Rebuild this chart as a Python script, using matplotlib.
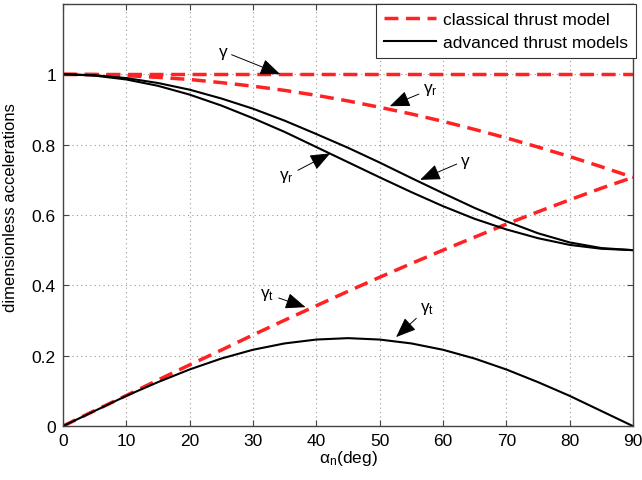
import matplotlib
matplotlib.use("Agg")
import matplotlib.pyplot as plt

plt.rcParams['font.family'] = ['Liberation Sans', 'DejaVu Sans']
plt.rcParams['mathtext.fontset'] = 'custom'
plt.rcParams['mathtext.rm'] = 'Liberation Sans'
plt.rcParams['mathtext.it'] = 'Liberation Sans'
plt.rcParams['mathtext.default'] = 'regular'

# angle alpha_n (deg)
alpha = [0, 5, 10, 15, 20, 25, 30, 35, 40, 45, 50, 55, 60, 65, 70, 75, 80, 85, 90]

# classical thrust model
cls_gamma = [1.0] * 19
cls_gamma_r = [1.000, 0.999, 0.996, 0.991, 0.985, 0.976, 0.966, 0.954, 0.940, 0.924,
               0.906, 0.887, 0.866, 0.843, 0.819, 0.793, 0.766, 0.737, 0.707]
cls_gamma_t = [0.000, 0.044, 0.087, 0.131, 0.174, 0.216, 0.259, 0.301, 0.342, 0.383,
               0.423, 0.462, 0.500, 0.537, 0.574, 0.609, 0.643, 0.676, 0.707]

# advanced thrust models
adv_gamma = [1.000, 0.997, 0.989, 0.975, 0.956, 0.931, 0.902, 0.868, 0.830, 0.791,
             0.749, 0.705, 0.662, 0.620, 0.582, 0.548, 0.522, 0.506, 0.500]
adv_gamma_r = [1.000, 0.996, 0.985, 0.967, 0.942, 0.911, 0.875, 0.836, 0.793, 0.750,
               0.707, 0.665, 0.625, 0.589, 0.559, 0.534, 0.515, 0.504, 0.500]
adv_gamma_t = [0.000, 0.043, 0.086, 0.125, 0.161, 0.192, 0.217, 0.235, 0.246, 0.250,
               0.246, 0.235, 0.217, 0.192, 0.161, 0.125, 0.086, 0.043, 0.000]

legend_labels = ['classical thrust model', 'advanced thrust models']

red = '#ff2222'
fig = plt.figure(figsize=(6.42, 4.81), dpi=100)
ax = fig.add_axes([0.098, 0.112, 0.888, 0.878])

dash = (4, 2.2)
l1, = ax.plot(alpha, cls_gamma, color=red, lw=2.5, dashes=dash)
ax.plot(alpha, cls_gamma_r, color=red, lw=2.5, dashes=dash)
ax.plot(alpha, cls_gamma_t, color=red, lw=2.5, dashes=dash)
l2, = ax.plot(alpha, adv_gamma, color='k', lw=1.5)
ax.plot(alpha, adv_gamma_r, color='k', lw=1.5)
ax.plot(alpha, adv_gamma_t, color='k', lw=1.5)

ax.set_xlim(0, 90)
ax.set_ylim(0, 1.2)
ax.set_xticks(range(0, 91, 10))
ax.set_yticks([0, 0.2, 0.4, 0.6, 0.8, 1.0, 1.2])
ax.set_yticklabels(['0', '0.2', '0.4', '0.6', '0.8', '1', ''])
ax.grid(True, linestyle=(0, (1, 3)), color='#999999', lw=0.8)
ax.tick_params(direction='in', top=True, right=True, labelsize=12.5, length=4,
               color='#444444', pad=5)
for s in ax.spines.values():
    s.set_color('#444444')
    s.set_linewidth(1.0)

ax.set_xlabel(r'α$_{\rm n}$(deg)', fontsize=12.5, labelpad=0)
ax.set_ylabel('dimensionless accelerations', fontsize=12, labelpad=4)
ax.yaxis.set_label_coords(-0.078, 0.52)

leg = ax.legend([l1, l2], legend_labels, loc='upper right', fontsize=12.5,
                fancybox=False, edgecolor='#333333', framealpha=1,
                bbox_to_anchor=(1.005, 1.0),
                borderaxespad=0.0, handlelength=3.0, borderpad=0.45,
                labelspacing=0.45, handletextpad=0.4)
leg.get_frame().set_linewidth(0.8)

ap = dict(arrowstyle='-|>,head_length=1.0,head_width=0.4', color='k', lw=0.7,
          shrinkA=1, shrinkB=0)
fs = 12.5
ax.annotate('γ', xy=(34.3, 1.0), xytext=(25.3, 1.065), fontsize=fs,
            ha='center', va='center', arrowprops=ap)
ax.annotate(r'γ$_{\rm r}$', xy=(51.6, 0.909), xytext=(58.0, 0.957), fontsize=fs,
            ha='center', va='center', arrowprops=ap)
ax.annotate('γ', xy=(56.4, 0.70), xytext=(63.5, 0.755), fontsize=fs,
            ha='center', va='center', arrowprops=ap)
ax.annotate(r'γ$_{\rm r}$', xy=(42.2, 0.775), xytext=(35.3, 0.71), fontsize=fs,
            ha='center', va='center', arrowprops=ap)
ax.annotate(r'γ$_{\rm t}$', xy=(38.3, 0.338), xytext=(32.3, 0.375), fontsize=fs,
            ha='center', va='center', arrowprops=ap)
ax.annotate(r'γ$_{\rm t}$', xy=(52.6, 0.253), xytext=(57.5, 0.335), fontsize=fs,
            ha='center', va='center', arrowprops=ap)

fig.savefig('out.png', dpi=100)
